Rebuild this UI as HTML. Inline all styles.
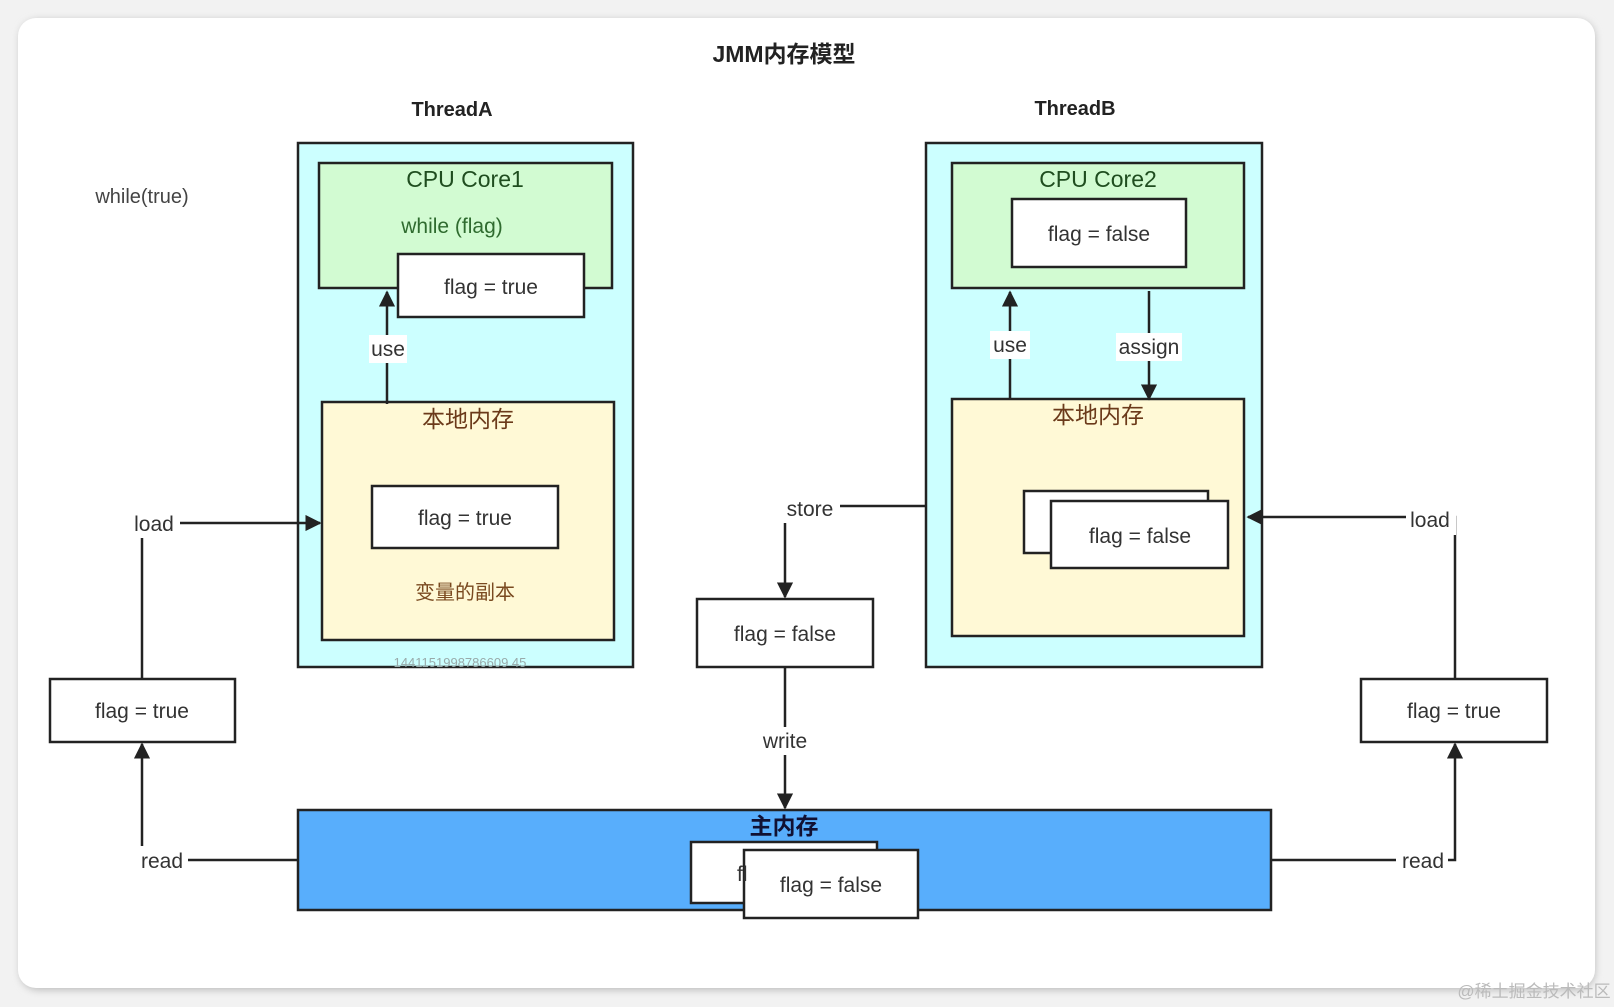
<!DOCTYPE html>
<html><head><meta charset="utf-8"><style>
html,body{margin:0;padding:0;background:#f2f2f2;}
svg{display:block}
text{font-family:"Liberation Sans","Noto Sans CJK SC",sans-serif;}
</style></head><body>
<svg width="1614" height="1007" viewBox="0 0 1614 1007" xmlns="http://www.w3.org/2000/svg">
<defs>
<filter id="sh" x="-5%" y="-5%" width="110%" height="110%"><feGaussianBlur stdDeviation="4"/></filter>
<marker id="ar" viewBox="0 0 10 10" refX="9" refY="5" markerWidth="6.5" markerHeight="6.5" orient="auto-start-reverse"><path d="M0,0 L10,5 L0,10 z" fill="#222"/></marker>
</defs>
<rect x="0" y="0" width="1614" height="1007" fill="#f2f2f2"/>
<rect x="20" y="20" width="1575" height="970" rx="18" fill="#bbb" filter="url(#sh)"/>
<rect x="18" y="18" width="1577" height="970" rx="18" fill="#fff"/>
<g fill="#222" text-anchor="middle">
<text x="784" y="62" font-size="23" font-weight="bold">JMM内存模型</text>
<text x="452" y="116" font-size="20" font-weight="bold">ThreadA</text>
<text x="1075" y="115" font-size="20" font-weight="bold">ThreadB</text>
<text x="142" y="203" font-size="20" fill="#444">while(true)</text>
</g>
<g stroke="#222" stroke-width="2.5">
<rect x="298" y="143" width="335" height="524" fill="#ccffff"/>
<rect x="926" y="143" width="336" height="524" fill="#ccffff"/>
<rect x="319" y="163" width="293" height="125" fill="#d2fbd2"/>
<rect x="952" y="163" width="292" height="125" fill="#d2fbd2"/>
<rect x="322" y="402" width="292" height="238" fill="#fff9d6"/>
<rect x="952" y="399" width="292" height="237" fill="#fff9d6"/>
<rect x="398" y="254" width="186" height="63" fill="#fff"/>
<rect x="372" y="486" width="186" height="62" fill="#fff"/>
<rect x="1012" y="199" width="174" height="68" fill="#fff"/>
<rect x="1024" y="491" width="184" height="62" fill="#fff"/>
<rect x="1051" y="501" width="177" height="67" fill="#fff"/>
<rect x="697" y="599" width="176" height="68" fill="#fff"/>
<rect x="50" y="679" width="185" height="63" fill="#fff"/>
<rect x="1361" y="679" width="186" height="63" fill="#fff"/>
<rect x="298" y="810" width="973" height="100" fill="#58aefc"/>
<rect x="691" y="842" width="186" height="61" fill="#fff"/>
<rect x="744" y="850" width="174" height="68" fill="#fff"/>
</g>
<g stroke="#222" stroke-width="2.5" fill="none" marker-end="url(#ar)">
<path d="M387,404 V292"/>
<path d="M1010,398 V292"/>
<path d="M1149,291 V399"/>
<path d="M142,679 V523 H320"/>
<path d="M298,860 H142 V744"/>
<path d="M926,506 H785 V597"/>
<path d="M785,667 V808"/>
<path d="M1271,860 H1455 V744"/>
<path d="M1455,679 V517 H1248"/>
</g>
<g fill="#fff">
<rect x="369" y="335" width="38" height="28"/>
<rect x="990" y="331" width="40" height="28"/>
<rect x="1116" y="333" width="66" height="28"/>
<rect x="128" y="510" width="52" height="28"/>
<rect x="136" y="846" width="52" height="28"/>
<rect x="782" y="495" width="58" height="28"/>
<rect x="756" y="727" width="58" height="28"/>
<rect x="1396" y="846" width="52" height="28"/>
<rect x="1406" y="507" width="50" height="28"/>
</g>
<g fill="#333" font-size="21" text-anchor="middle">
<text x="388" y="356">use</text>
<text x="1010" y="352">use</text>
<text x="1149" y="354">assign</text>
<text x="154" y="531">load</text>
<text x="162" y="868">read</text>
<text x="810" y="516">store</text>
<text x="785" y="748">write</text>
<text x="1423" y="868">read</text>
<text x="1430" y="527">load</text>
<text x="491" y="294">flag = true</text>
<text x="465" y="525">flag = true</text>
<text x="1099" y="241">flag = false</text>
<text x="1140" y="543">flag = false</text>
<text x="785" y="641">flag = false</text>
<text x="142" y="718">flag = true</text>
<text x="1454" y="718">flag = true</text>
<text x="831" y="892">flag = false</text>
<text x="737" y="881" text-anchor="start">fl</text>
<text x="465" y="187" font-size="23" fill="#1f4d1f">CPU Core1</text>
<text x="1098" y="187" font-size="23" fill="#1f4d1f">CPU Core2</text>
<text x="452" y="233" fill="#2f6b2f">while (flag)</text>
<text x="468" y="427" font-size="23" fill="#6b3a1a">本地内存</text>
<text x="1098" y="423" font-size="23" fill="#6b3a1a">本地内存</text>
<text x="465" y="599" font-size="20" fill="#7a4a20">变量的副本</text>
<text x="784" y="834" font-size="23" font-weight="bold" fill="#113">主内存</text>
<text x="460" y="667" font-size="13" fill="#9aa">1441151998786609 45</text>
<text x="1534" y="997" font-size="17" fill="#bbb">@稀土掘金技术社区</text>
</g>
</svg>
</body></html>
